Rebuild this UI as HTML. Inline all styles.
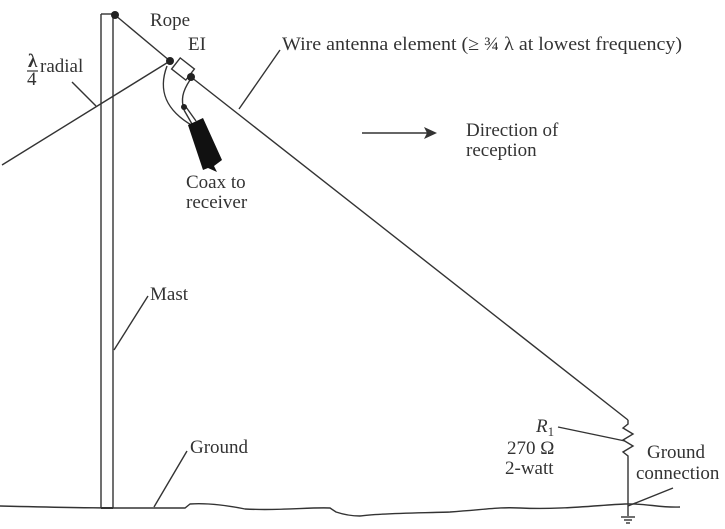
<!DOCTYPE html>
<html><head><style>
body{margin:0;background:#fff;}
svg{display:block;}
text{font-family:"Liberation Serif",serif;fill:#333;font-size:19px;}
</style></head><body>
<svg width="725" height="529" viewBox="0 0 725 529">
<g stroke="#333" fill="none" stroke-width="1.4">
<line x1="101" y1="14" x2="101" y2="508"/>
<line x1="113" y1="14" x2="113" y2="508"/>
<line x1="101" y1="14" x2="115" y2="14"/>
<line x1="101" y1="508" x2="113" y2="508" stroke-width="2"/>
<line x1="115" y1="15" x2="170" y2="61"/>
<line x1="2" y1="165" x2="170" y2="61"/>
<line x1="72" y1="82" x2="96" y2="106"/>
<line x1="191" y1="77" x2="628" y2="420"/>
<polyline points="628,420 628,424 623,428 633,434 623,440 633,446 623,452 628,456 628,516"/>
<line x1="621" y1="517" x2="635" y2="517"/>
<line x1="624" y1="520" x2="632" y2="520"/>
<line x1="626" y1="523" x2="630" y2="523"/>
<line x1="280" y1="50" x2="239" y2="109"/>
<line x1="148" y1="296" x2="114" y2="350"/>
<line x1="187" y1="451" x2="154" y2="507"/>
<line x1="558" y1="427" x2="625" y2="441"/>
<line x1="673" y1="488" x2="628" y2="506"/>
<line x1="362" y1="133" x2="430" y2="133"/>
<path d="M0,506 C40,507 80,508 120,508 L185,508 L190,504 C205,503 225,505 245,509 C280,511 310,507 330,508 L336,512 C345,515 355,516 360,516"/>
<path d="M360,516 C380,513 420,513 450,512 C490,509 500,507 520,508 C560,510 600,505 625,504 C645,503 660,508 680,507"/>
<path d="M167,66 C158,90 165,110 193,126"/>
<path d="M190,80 C182,92 181,100 184,110"/>
<line x1="184" y1="110" x2="192" y2="124"/>
<line x1="186" y1="107" x2="196" y2="121"/>
</g>
<polygon points="188,125 203,118 222,160 214,166 217,172 208,168 203,170" fill="#111"/>
<g transform="translate(183,69) rotate(38)">
<rect x="-9" y="-7" width="18" height="14" fill="#fff" stroke="#333" stroke-width="1.4"/>
</g>
<g fill="#222">
<circle cx="115" cy="15" r="4"/>
<circle cx="170" cy="61" r="4"/>
<circle cx="191" cy="77" r="4"/>
<circle cx="184" cy="107" r="3"/>
</g>
<polygon points="437,133 424,127 427,133 424,139" fill="#333"/>
<text x="150" y="26" font-size="17">Rope</text>
<text x="188" y="50" font-size="17">EI</text>
<text x="282" y="50" textLength="400" lengthAdjust="spacingAndGlyphs" font-size="18">Wire antenna element (≥ ¾ λ at  lowest frequency)</text>
<text x="28" y="67" font-weight="bold" font-size="17">λ</text>
<line x1="27" y1="71" x2="38" y2="71" stroke="#333" stroke-width="1.2"/>
<text x="27" y="85" font-size="17">4</text>
<text x="40" y="72">radial</text>
<text x="466" y="136">Direction of</text>
<text x="466" y="156">reception</text>
<text x="186" y="188">Coax to</text>
<text x="186" y="208">receiver</text>
<text x="150" y="300">Mast</text>
<text x="190" y="453">Ground</text>
<text x="536" y="432" font-style="italic">R<tspan font-size="13" dy="4" font-style="normal">1</tspan></text>
<text x="507" y="454">270 Ω</text>
<text x="505" y="474">2-watt</text>
<text x="647" y="458">Ground</text>
<text x="636" y="479">connection</text>
</svg>
</body></html>
